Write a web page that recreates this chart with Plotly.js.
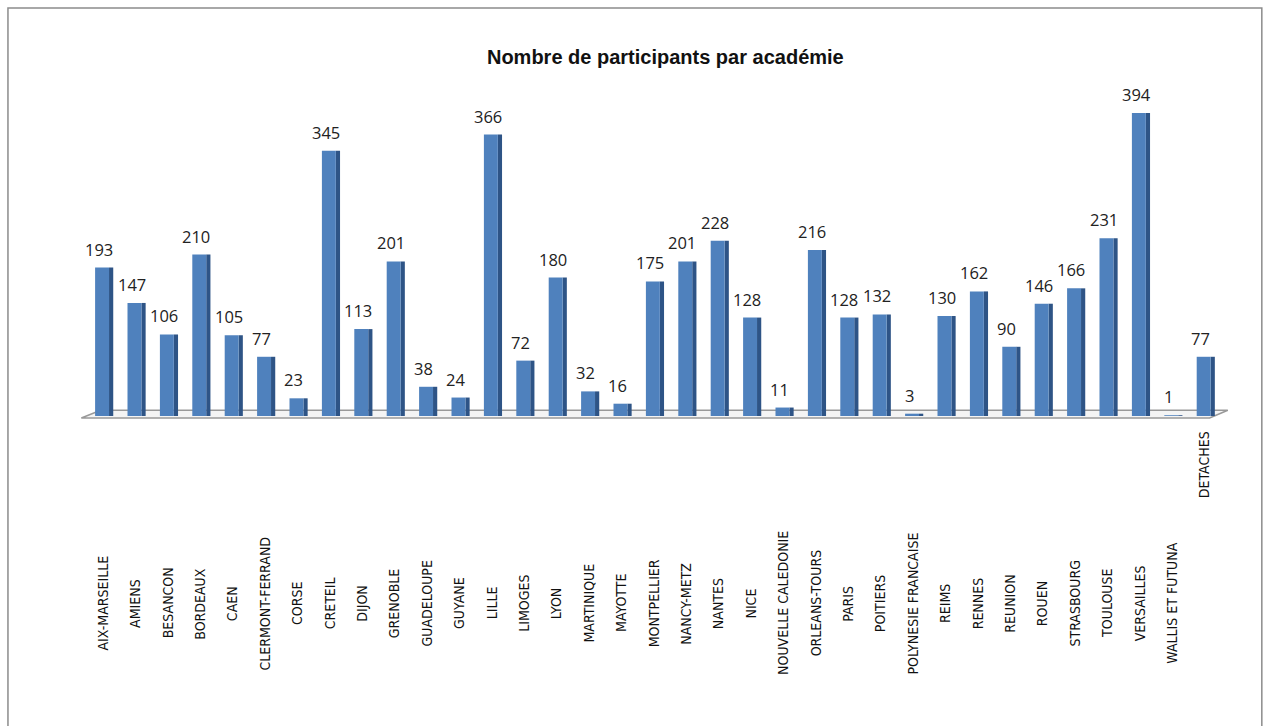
<!DOCTYPE html>
<html><head><meta charset="utf-8">
<script src="https://cdn.plot.ly/plotly-3.0.1.min.js"></script>
<style>html,body{margin:0;padding:0;background:#fff;}#chart{width:1271px;height:726px;}</style>
</head><body><div id="chart"></div>
<script>
const categories = ["AIX-MARSEILLE","AMIENS","BESANCON","BORDEAUX","CAEN","CLERMONT-FERRAND","CORSE","CRETEIL","DIJON","GRENOBLE","GUADELOUPE","GUYANE","LILLE","LIMOGES","LYON","MARTINIQUE","MAYOTTE","MONTPELLIER","NANCY-METZ","NANTES","NICE","NOUVELLE CALEDONIE","ORLEANS-TOURS","PARIS","POITIERS","POLYNESIE FRANCAISE","REIMS","RENNES","REUNION","ROUEN","STRASBOURG","TOULOUSE","VERSAILLES","WALLIS ET FUTUNA","DETACHES"];
const participants = [193,147,106,210,105,77,23,345,113,201,38,24,366,72,180,32,16,175,201,228,128,11,216,128,132,3,130,162,90,146,166,231,394,1,77];
const chartTitle = "Nombre de participants par académie";

const front = {
  type:'bar', x:categories, y:participants,
  width:0.43, offset:-0.25,
  marker:{color:'#4F81BD', line:{width:0}},
  hoverinfo:'x+y', showlegend:false
};
const side = {
  type:'bar', x:categories, y:participants,
  width:0.13, offset:0.18,
  marker:{color:'#2E5486', line:{width:0}},
  hoverinfo:'skip', showlegend:false
};

const catFont = {family:'Liberation Sans Narrow, DejaVu Sans Condensed, Liberation Sans, sans-serif', size:14, color:'#111'};
const catLabels = categories.map((c,i)=>{
  const last = i === categories.length-1;
  return {
    x:c, xref:'x', yref:'paper',
    y: last ? -0.04 : -0.58,
    yanchor: last ? 'top' : 'middle',
    xanchor:'center',
    text:c, textangle:-90, showarrow:false,
    font:catFont
  };
});
const valueLabels = categories.map((c,i)=>({
  x:c, xref:'x', y:participants[i], yref:'y',
  yanchor:'bottom', xanchor:'center', xshift:-4, yshift:5,
  text:String(participants[i]), showarrow:false,
  font:{family:'Open Sans, Liberation Sans, sans-serif', size:16.5, color:'#222'}
}));

const shapes = [
  {type:'path', xref:'paper', yref:'paper',
   path:'M -0.005 -0.006 L 0.012 0.018 L 1.006 0.018 L 0.99 -0.006 Z',
   line:{color:'#999', width:1.5}, fillcolor:'#f4f4f4', layer:'below'},
  {type:'rect', xref:'paper', yref:'paper', x0:-0.0697, x1:1.036, y0:-1.2, y1:1.263,
   line:{color:'#8c8c8c', width:1.5}, fillcolor:'rgba(0,0,0,0)'}
];

const layout = {
  width:1271, height:726,
  margin:{l:87, r:50, t:93, b:310},
  paper_bgcolor:'#fff', plot_bgcolor:'rgba(0,0,0,0)',
  barmode:'overlay',
  title:{text:chartTitle, font:{family:'Liberation Sans, Arial, sans-serif', size:20, color:'#111', weight:'bold'},
         x:0.51, xref:'paper', y:0.921, yref:'container', yanchor:'middle'},
  xaxis:{type:'category', range:[-0.5,34.5], showticklabels:false, showgrid:false, zeroline:false, showline:false, ticks:''},
  yaxis:{range:[0,420], showticklabels:false, showgrid:false, zeroline:false, showline:false, ticks:''},
  annotations:catLabels.concat(valueLabels), shapes:shapes
};
Plotly.newPlot('chart',[side,front],layout,{displayModeBar:false, staticPlot:true});
</script></body></html>
